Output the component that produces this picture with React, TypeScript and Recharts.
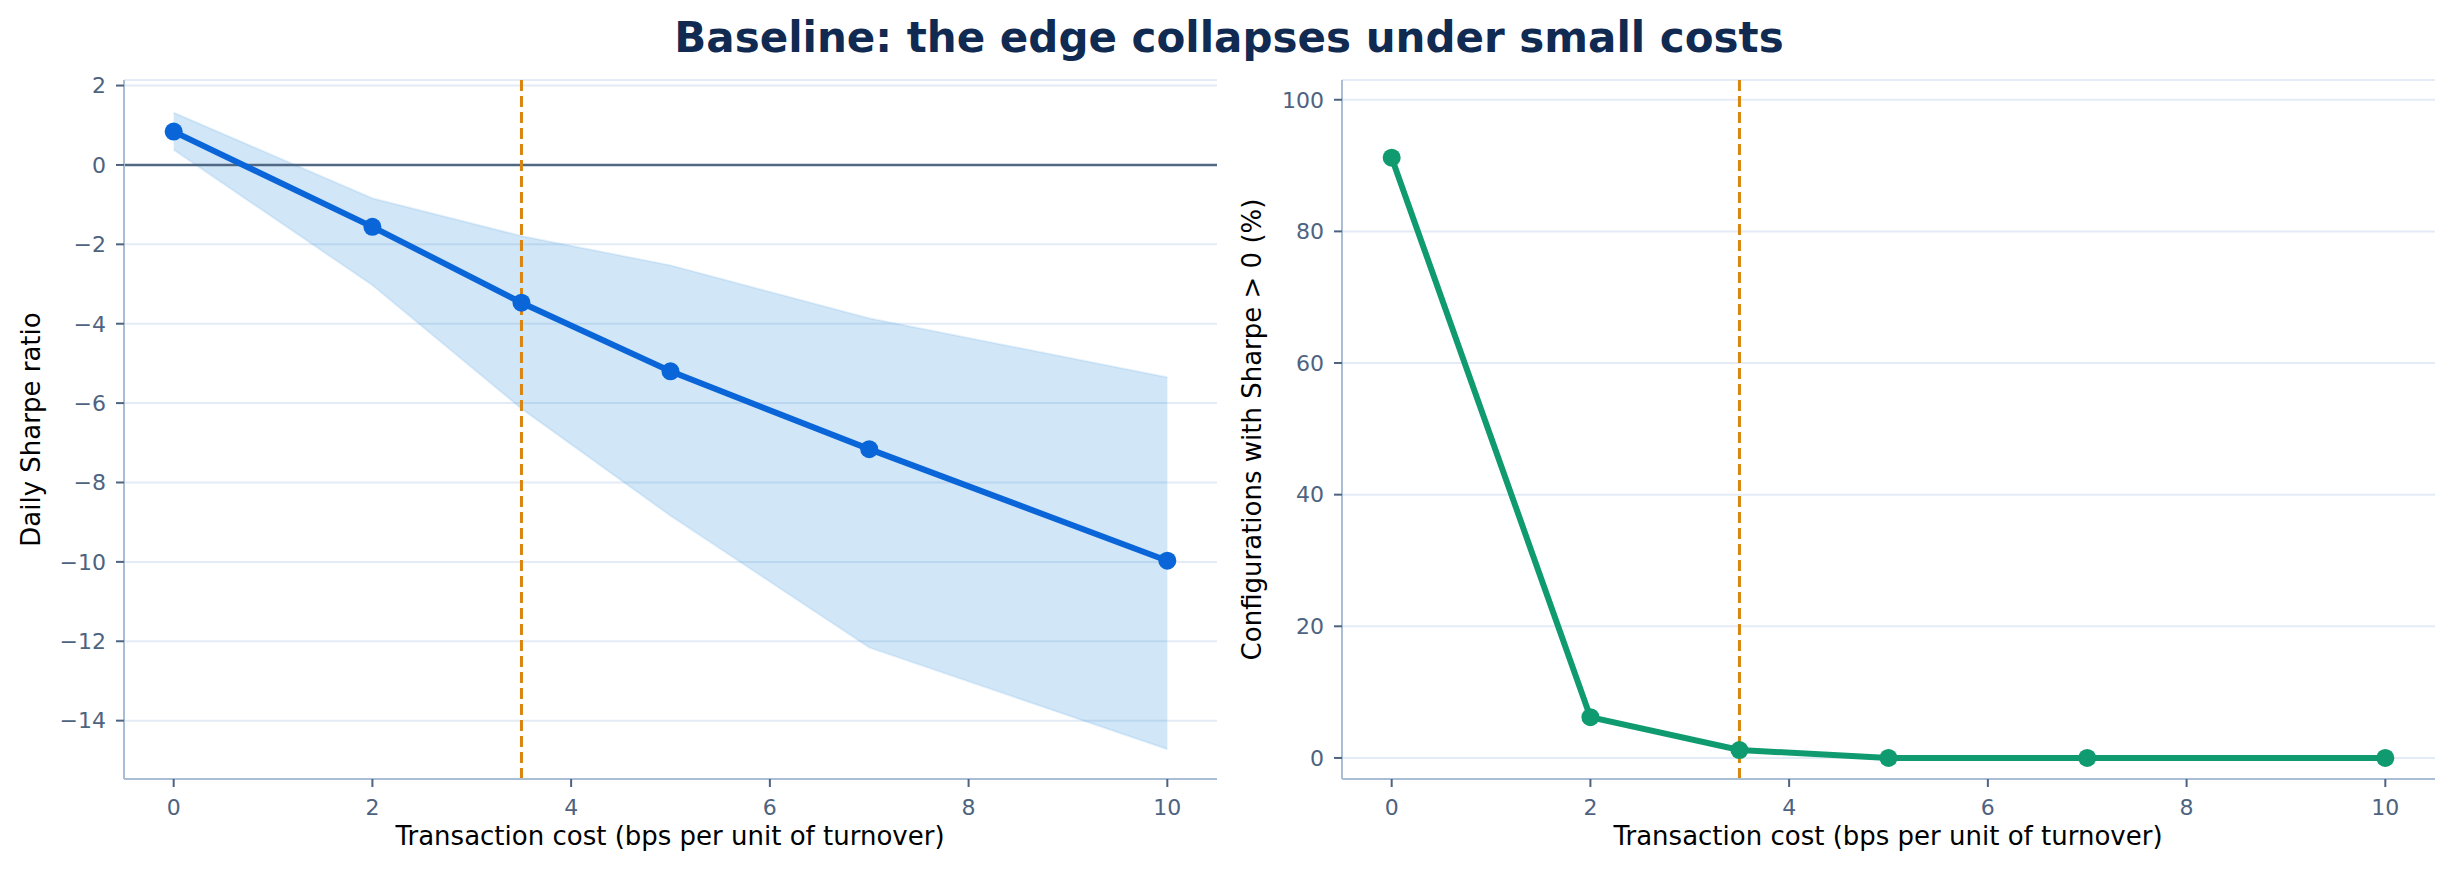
import React from 'react';
import {
    ComposedChart,
    Line,
    Area,
    XAxis,
    YAxis,
    CartesianGrid,
    ReferenceLine,
} from 'recharts';

// transaction cost levels (bps per unit of turnover)
const costs = [0, 2, 3.5, 5, 7, 10];

// left panel: daily Sharpe, mean and band
const sharpeMean = [0.84, -1.56, -3.47, -5.2, -7.16, -9.97];
const sharpeHigh = [1.32, -0.84, -1.79, -2.53, -3.86, -5.35];
const sharpeLow = [0.38, -3.03, -6.14, -8.84, -12.16, -14.72];

// right panel: share of configurations with Sharpe > 0
const pctPositive = [91.2, 6.2, 1.2, 0, 0, 0];

const xTicks = [0, 2, 4, 6, 8, 10];
const sharpeTicks = [-14, -12, -10, -8, -6, -4, -2, 0, 2];
const pctTicks = [0, 20, 40, 60, 80, 100];

const BREAKEVEN = 3.5;

const FONT = 'DejaVu Sans';
const TICK_COLOR = '#4d6380';
const SPINE = '#a9bdd5';
const GRID = '#e3ecf6';
const BLUE = '#0a66d8';
const GREEN = '#0f9b6f';
const ORANGE = '#d9850f';

const sharpeData = costs.map((c, i) => ({
    cost: c,
    mean: sharpeMean[i],
    band: [sharpeLow[i], sharpeHigh[i]],
}));

const pctData = costs.map((c, i) => ({ cost: c, pct: pctPositive[i] }));

const tickStyle = { fill: TICK_COLOR, fontSize: 22, fontFamily: FONT };
const tickLine = { stroke: TICK_COLOR, strokeWidth: 2 };
const axisLine = { stroke: SPINE, strokeWidth: 2 };

const App: React.FC = () => {
    return (
        <div style={{ position: 'absolute', left: 0, top: 0, width: 2454, height: 877, background: '#fff', overflow: 'hidden' }}>
            <div style={{ position: 'absolute', left: 0, top: 0 }}>
                <ComposedChart width={1230} height={877} data={sharpeData} margin={{ top: 80, right: 13, bottom: 38, left: 0 }}>
                    <CartesianGrid vertical={false} stroke={GRID} strokeWidth={2} />
                    <XAxis
                        dataKey="cost"
                        type="number"
                        domain={[-0.5, 10.5]}
                        ticks={xTicks}
                        height={60}
                        tick={tickStyle}
                        tickLine={tickLine}
                        tickSize={8}
                        tickMargin={12}
                        axisLine={axisLine}
                    />
                    <YAxis
                        type="number"
                        domain={[-15.47, 2.14]}
                        ticks={sharpeTicks}
                        width={124}
                        tick={tickStyle}
                        tickLine={tickLine}
                        tickSize={8}
                        tickMargin={10}
                        axisLine={axisLine}
                        tickFormatter={(v: number) => (v < 0 ? `\u2212${Math.abs(v)}` : `${v}`)}
                    />
                    <Area
                        dataKey="band"
                        type="linear"
                        fill="#3d95dd"
                        fillOpacity={0.24}
                        stroke="#3d95dd"
                        strokeOpacity={0.12}
                        strokeWidth={2}
                        isAnimationActive={false}
                        activeDot={false}
                    />
                    <ReferenceLine y={0} stroke="#506882" strokeWidth={2.5} />
                    <Line
                        dataKey="mean"
                        type="linear"
                        stroke={BLUE}
                        strokeWidth={6}
                        dot={{ r: 9, fill: BLUE, stroke: BLUE, strokeWidth: 0 }}
                        activeDot={false}
                        isAnimationActive={false}
                    />
                    <ReferenceLine x={BREAKEVEN} stroke={ORANGE} strokeWidth={3} strokeDasharray="11 5" />
                </ComposedChart>
            </div>

            <div style={{ position: 'absolute', left: 1230, top: 0 }}>
                <ComposedChart width={1224} height={877} data={pctData} margin={{ top: 80, right: 19, bottom: 38, left: 0 }}>
                    <CartesianGrid vertical={false} stroke={GRID} strokeWidth={2} />
                    <XAxis
                        dataKey="cost"
                        type="number"
                        domain={[-0.5, 10.5]}
                        ticks={xTicks}
                        height={60}
                        tick={tickStyle}
                        tickLine={tickLine}
                        tickSize={8}
                        tickMargin={12}
                        axisLine={axisLine}
                    />
                    <YAxis
                        type="number"
                        domain={[-3.2, 103]}
                        ticks={pctTicks}
                        width={112}
                        tick={tickStyle}
                        tickLine={tickLine}
                        tickSize={8}
                        tickMargin={10}
                        axisLine={axisLine}
                    />
                    <Line
                        dataKey="pct"
                        type="linear"
                        stroke={GREEN}
                        strokeWidth={6}
                        dot={{ r: 9, fill: GREEN, stroke: GREEN, strokeWidth: 0 }}
                        activeDot={false}
                        isAnimationActive={false}
                    />
                    <ReferenceLine x={BREAKEVEN} stroke={ORANGE} strokeWidth={3} strokeDasharray="11 5" />
                </ComposedChart>
            </div>

            <svg width={2454} height={877} style={{ position: 'absolute', left: 0, top: 0, pointerEvents: 'none' }}>
                <text x={1229} y={52} textAnchor="middle" fontFamily={FONT} fontSize={42} fontWeight="bold" fill="#102a52">
                    Baseline: the edge collapses under small costs
                </text>
                <text x={670} y={845} textAnchor="middle" fontFamily={FONT} fontSize={26} fill="#000">
                    Transaction cost (bps per unit of turnover)
                </text>
                <text x={1888} y={845} textAnchor="middle" fontFamily={FONT} fontSize={26} fill="#000">
                    Transaction cost (bps per unit of turnover)
                </text>
                <text transform="translate(40 429.5) rotate(-90)" textAnchor="middle" fontFamily={FONT} fontSize={26} fill="#000">
                    Daily Sharpe ratio
                </text>
                <text transform="translate(1261 429.5) rotate(-90)" textAnchor="middle" fontFamily={FONT} fontSize={26} fill="#000">
                    Configurations with Sharpe &gt; 0 (%)
                </text>
            </svg>
        </div>
    );
};

export default App;
